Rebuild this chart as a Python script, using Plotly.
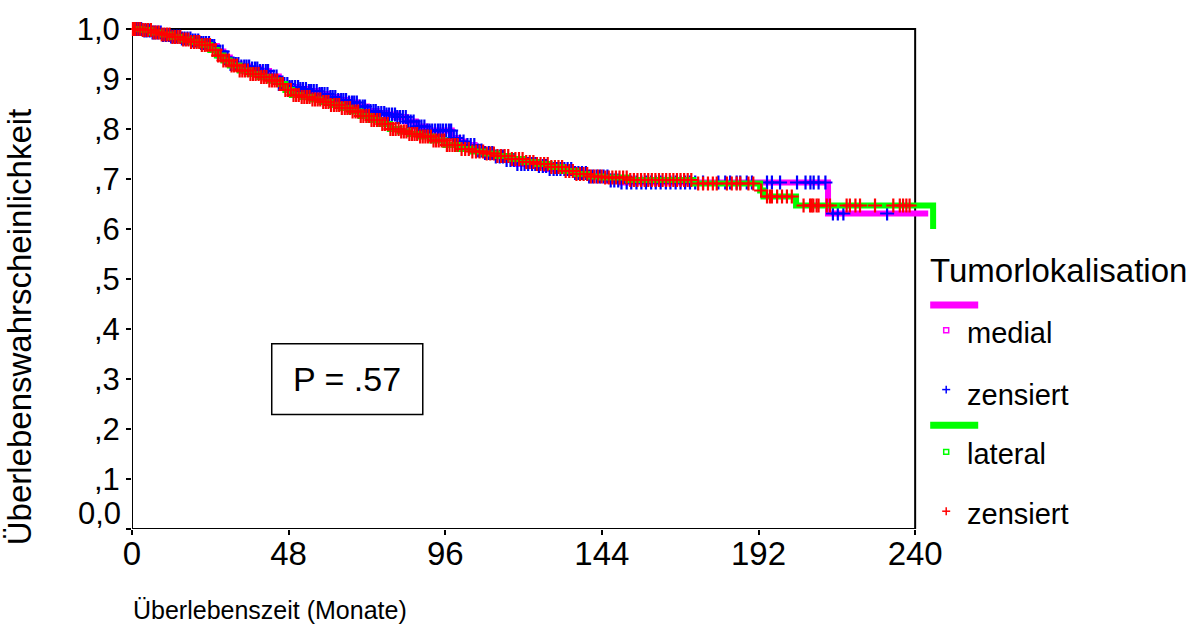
import numpy as np
import plotly.graph_objects as go

# ---------------- data ----------------
# Kaplan-Meier step curve, group "medial"
medial_t = [0, 3, 6, 9, 12, 15, 18, 21, 24, 26, 28, 30, 33, 36, 39, 42, 45, 48,
            51, 54, 57, 60, 63, 66, 69, 72, 75, 78, 81, 84, 87, 90, 98, 100, 102, 105,
            108, 111, 114, 118, 124, 127, 135, 140, 146, 150, 213.3, 244]
medial_s = [1.0, 0.997, 0.993, 0.988, 0.985, 0.981, 0.977, 0.972, 0.966, 0.955, 0.943, 0.930,
            0.925, 0.921, 0.916, 0.905, 0.890, 0.884, 0.880, 0.876, 0.870, 0.864, 0.858, 0.853,
            0.845, 0.836, 0.832, 0.829, 0.824, 0.815, 0.805, 0.797, 0.782, 0.775, 0.768, 0.757,
            0.752, 0.745, 0.738, 0.730, 0.726, 0.720, 0.712, 0.705, 0.697, 0.693, 0.631, 0.631]
medial_censored = [0.5, 1.2, 2.1, 2.8, 3.8, 4.5, 5.4, 6.3, 7.0, 7.9, 8.8, 9.5, 10.4, 11.3,
                   12.0, 12.8, 13.7, 14.6, 15.3, 16.1, 17.0, 17.9, 18.6, 19.4, 20.3, 21.2,
                   21.9, 22.7, 23.6, 24.5, 25.2, 26.0, 26.9, 27.8, 28.5, 29.3, 30.2, 31.1,
                   31.8, 32.6, 33.5, 34.4, 35.1, 35.9, 36.8, 37.7, 38.4, 39.2, 40.1, 41.0,
                   41.7, 42.5, 43.4, 44.3, 45.0, 45.8, 46.7, 47.6, 48.3, 49.1, 50.0, 50.9,
                   51.6, 52.4, 53.3, 54.2, 54.9, 55.7, 56.6, 57.5, 58.2, 59.0, 59.9, 60.8,
                   61.5, 62.3, 63.2, 64.1, 64.8, 65.6, 66.5, 67.4, 68.1, 68.9, 69.8, 70.7,
                   71.4, 72.2, 73.1, 74.0, 74.7, 75.5, 76.4, 77.3, 78.0, 78.8, 79.7, 80.6,
                   81.3, 82.1, 83.0, 83.9, 84.6, 85.4, 86.3, 87.2, 87.9, 88.7, 89.6, 90.5,
                   91.2, 92.0, 92.9, 93.8, 94.5, 95.3, 96.2, 97.1, 97.8, 98.6, 99.5, 100.5,
                   101.6, 102.8, 103.8, 104.9, 106.1, 107.1, 108.2, 109.4, 110.4, 111.5,
                   112.7, 113.7, 114.8, 116.0, 117.0, 118.1, 119.3, 120.3, 121.4, 122.6,
                   123.6, 124.7, 125.9, 126.9, 128.0, 129.2, 130.2, 131.3, 132.5, 133.5,
                   134.6, 135.8, 136.8, 137.9, 139.1, 140.1, 141.2, 142.4, 143.4, 144.5,
                   145.7, 146.7, 147.8, 149.0, 150.0, 151.6, 153.0, 154.6, 156.1, 157.5,
                   159.1, 160.5, 162.0, 163.6, 165.0, 166.6, 168.1, 169.5, 171.0, 172.6,
                   175, 179.7, 181.8, 183.3, 185.3, 186.4, 188.4, 190, 194.6, 196.1,
                   198.6, 203.8, 206.4, 207.9, 208.9, 210.4, 212.5, 214.8, 216.3, 218, 231.4]

# Kaplan-Meier step curve, group "lateral"
lateral_t = [0, 3, 6, 9, 12, 15, 18, 21, 24, 26, 28, 30, 33, 36, 39, 42, 45, 47, 49, 52,
             55, 58, 61, 64, 67, 70, 73, 76, 79, 82, 85, 88, 92, 96, 100, 104, 108, 112,
             116, 120, 124, 128, 132, 136, 140, 144, 152, 172, 192.5, 193.5, 203.5, 245.5]
lateral_s = [1.0, 0.998, 0.993, 0.989, 0.984, 0.979, 0.974, 0.968, 0.958, 0.947, 0.937, 0.927,
             0.917, 0.910, 0.904, 0.897, 0.890, 0.878, 0.868, 0.864, 0.859, 0.854, 0.848, 0.842,
             0.835, 0.826, 0.818, 0.810, 0.800, 0.795, 0.790, 0.785, 0.777, 0.768, 0.760, 0.755,
             0.751, 0.746, 0.740, 0.734, 0.730, 0.724, 0.716, 0.710, 0.705, 0.703, 0.698, 0.691,
             0.677, 0.665, 0.647, 0.600]
lateral_censored = [0.3, 0.9, 1.7, 2.5, 3.3, 4.1, 4.9, 5.8, 6.6, 7.4, 8.2, 9.1, 9.9, 10.7,
                    11.5, 12.4, 13.2, 14.0, 14.8, 15.7, 16.5, 17.3, 18.1, 19.0, 19.8, 20.6,
                    21.4, 22.3, 23.1, 23.9, 24.7, 25.6, 26.4, 27.2, 28.0, 28.9, 29.7, 30.5,
                    31.3, 32.2, 33.0, 33.8, 34.6, 35.5, 36.3, 37.1, 37.9, 38.8, 39.6, 40.4,
                    41.2, 42.1, 42.9, 43.7, 44.5, 45.4, 46.2, 47.0, 47.8, 48.7, 49.5, 50.3,
                    51.1, 52.0, 52.8, 53.6, 54.4, 55.3, 56.1, 56.9, 57.7, 58.6, 59.4, 60.2,
                    61.0, 61.9, 62.7, 63.5, 64.3, 65.2, 66.0, 66.8, 67.6, 68.5, 69.3, 70.1,
                    70.9, 71.8, 72.6, 73.4, 74.2, 75.1, 75.9, 76.7, 77.5, 78.4, 79.2, 80.0,
                    80.8, 81.7, 82.5, 83.3, 84.1, 85.0, 85.8, 86.6, 87.4, 88.3, 89.1, 89.9,
                    90.7, 91.6, 92.4, 93.2, 94.0, 94.9, 95.7, 96.5, 97.3, 98.2, 99.0, 99.8,
                    101.0, 102.1, 103.2, 104.3, 105.4, 106.5, 107.6, 108.7, 109.8, 110.9,
                    112.0, 113.1, 114.2, 115.3, 116.4, 117.5, 118.6, 119.7, 120.8, 121.9,
                    123.0, 124.1, 125.2, 126.3, 127.4, 128.5, 129.6, 130.7, 131.8, 132.9,
                    134.0, 135.1, 136.2, 137.3, 138.4, 139.5, 140.6, 141.7, 142.8, 143.9,
                    145.0, 146.1, 147.2, 148.3, 149.4, 150.5, 151.6, 152.7, 153.8, 154.9,
                    156.0, 157.1, 158.2, 159.3, 160.4, 161.5, 162.6, 163.7, 164.8, 165.9,
                    167.0, 168.1, 169.2, 170.3, 171.4, 173.5, 175, 176.5, 178, 179.2, 182.3,
                    183.8, 185.3, 186.4, 188.9, 190.4, 192.8, 194.6, 195.5, 196.1, 197.7,
                    199.2, 200.7, 202.2, 205.8, 207.8, 208.3, 208.8, 209.8, 210.4, 212.9,
                    213.9, 219, 220, 221.7, 223.1, 227.7, 233.3, 235.3, 236.3, 237.3, 238.3]

x_ticks = [0, 48, 96, 144, 192, 240]
y_ticks = [0, 0.1, 0.2, 0.3, 0.4, 0.5, 0.6, 0.7, 0.8, 0.9, 1.0]
y_ticktext = ["", ",1", ",2", ",3", ",4", ",5", ",6", ",7", ",8", ",9", "1,0"]

legend_title = "Tumorlokalisation"
group_names = ["medial", "lateral"]
censor_label = "zensiert"
p_text = "P = .57"
x_title = "Überlebenszeit (Monate)"
y_title = "Überlebenswahrscheinlichkeit"

# ---------------- styling ----------------
MAGENTA, GREEN, BLUE, RED = "#ff00ff", "#00ff00", "#0000ff", "#ff0000"
FONT = "Liberation Sans, Arial, sans-serif"

W, H = 1200, 644
L, R_EDGE, B_EDGE, T_EDGE = 132, 937.8, 529, 13.2
XMAX, YMAX = 247, 1.02


def px(x):
    return (x - L) / (R_EDGE - L)


def py(y):
    return (B_EDGE - y) / (B_EDGE - T_EDGE)


def step_at(ts, ss, t):
    ts = np.asarray(ts, dtype=float)
    ss = np.asarray(ss, dtype=float)
    idx = np.searchsorted(ts, np.asarray(t, dtype=float), side="right") - 1
    return ss[np.clip(idx, 0, len(ss) - 1)]


fig = go.Figure()

fig.add_trace(go.Scatter(x=medial_t, y=medial_s, mode="lines", line_shape="hv",
                         line=dict(color=MAGENTA, width=6), showlegend=False, hoverinfo="skip"))
fig.add_trace(go.Scatter(x=medial_censored, y=step_at(medial_t, medial_s, medial_censored),
                         mode="markers", cliponaxis=False,
                         marker=dict(symbol="cross-thin", size=10, line=dict(color=BLUE, width=2.2)),
                         showlegend=False, hoverinfo="skip"))
fig.add_trace(go.Scatter(x=lateral_t, y=lateral_s, mode="lines", line_shape="hv",
                         line=dict(color=GREEN, width=6), showlegend=False, hoverinfo="skip"))
fig.add_trace(go.Scatter(x=lateral_censored, y=step_at(lateral_t, lateral_s, lateral_censored),
                         mode="markers", cliponaxis=False,
                         marker=dict(symbol="cross-thin", size=10, line=dict(color=RED, width=2.2)),
                         showlegend=False, hoverinfo="skip"))

shapes = []
# plot frame
shapes.append(dict(type="rect", xref="x", yref="y", x0=0, x1=240, y0=0, y1=1.0,
                   line=dict(color="black", width=2), layer="below"))
# p-value box
shapes.append(dict(type="rect", xref="paper", yref="paper", x0=px(271.7), x1=px(422.7),
                   y0=py(413.3), y1=py(341.7), line=dict(color="black", width=1.5)))

annotations = []
annotations.append(dict(text=p_text, xref="paper", yref="paper", x=px(347), y=py(377),
                        xanchor="center", yanchor="middle", showarrow=False,
                        font=dict(family=FONT, size=34, color="black")))
annotations.append(dict(text="0,0", xref="paper", yref="paper", x=px(123), y=py(513),
                        xanchor="right", yanchor="middle", showarrow=False,
                        font=dict(family=FONT, size=31, color="black")))
annotations.append(dict(text=y_title, xref="paper", yref="paper", x=px(19), y=py(324),
                        xanchor="center", yanchor="middle", textangle=-90, showarrow=False,
                        font=dict(family=FONT, size=33, color="black")))
annotations.append(dict(text=x_title, xref="paper", yref="paper", x=px(131), y=py(611),
                        xanchor="left", yanchor="middle", showarrow=False,
                        font=dict(family=FONT, size=25, color="black")))

# legend built by hand (SPSS style)
annotations.append(dict(text=legend_title, xref="paper", yref="paper", x=px(928), y=py(268),
                        xanchor="left", yanchor="middle", showarrow=False,
                        font=dict(family=FONT, size=33, color="black")))
legend_rows = [
    (MAGENTA, BLUE, group_names[0], 302.5, 328, 331, 388, 393),
    (GREEN, RED, group_names[1], 424, 451, 453, 511, 514),
]
for line_col, cens_col, name, bar_y, sq_y, name_y, plus_y, cens_y in legend_rows:
    shapes.append(dict(type="rect", xref="paper", yref="paper", x0=px(930), x1=px(978),
                       y0=py(bar_y + 3.5), y1=py(bar_y - 3.5), fillcolor=line_col,
                       line=dict(width=0)))
    shapes.append(dict(type="rect", xref="paper", yref="paper", x0=px(943.5), x1=px(948.5),
                       y0=py(sq_y + 2.5), y1=py(sq_y - 2.5), fillcolor="white",
                       line=dict(color=line_col, width=1.5)))
    shapes.append(dict(type="line", xref="paper", yref="paper", x0=px(942), x1=px(950),
                       y0=py(plus_y), y1=py(plus_y), line=dict(color=cens_col, width=1.5)))
    shapes.append(dict(type="line", xref="paper", yref="paper", x0=px(946), x1=px(946),
                       y0=py(plus_y - 4), y1=py(plus_y + 4), line=dict(color=cens_col, width=1.5)))
    annotations.append(dict(text=name, xref="paper", yref="paper", x=px(965), y=py(name_y),
                            xanchor="left", yanchor="middle", showarrow=False,
                            font=dict(family=FONT, size=29, color="black")))
    annotations.append(dict(text=censor_label, xref="paper", yref="paper", x=px(965), y=py(cens_y),
                            xanchor="left", yanchor="middle", showarrow=False,
                            font=dict(family=FONT, size=29, color="black")))

fig.update_layout(
    width=W, height=H, autosize=False,
    margin=dict(l=L, r=W - R_EDGE, t=T_EDGE, b=H - B_EDGE, pad=0),
    paper_bgcolor="white", plot_bgcolor="white",
    showlegend=False,
    shapes=shapes, annotations=annotations,
    xaxis=dict(range=[0, XMAX], tickmode="array", tickvals=x_ticks,
               ticktext=[str(v) for v in x_ticks],
               ticks="outside", ticklen=5, tickwidth=2, tickcolor="black",
               showgrid=False, zeroline=False, showline=False, ticklabelstandoff=-10,
               tickfont=dict(family=FONT, size=33, color="black")),
    yaxis=dict(range=[0, YMAX], tickmode="array", tickvals=y_ticks, ticktext=y_ticktext,
               ticks="outside", ticklen=5, tickwidth=2, tickcolor="black",
               showgrid=False, zeroline=False, showline=False,
               tickfont=dict(family=FONT, size=31, color="black")),
)

fig.write_html("out.html")
